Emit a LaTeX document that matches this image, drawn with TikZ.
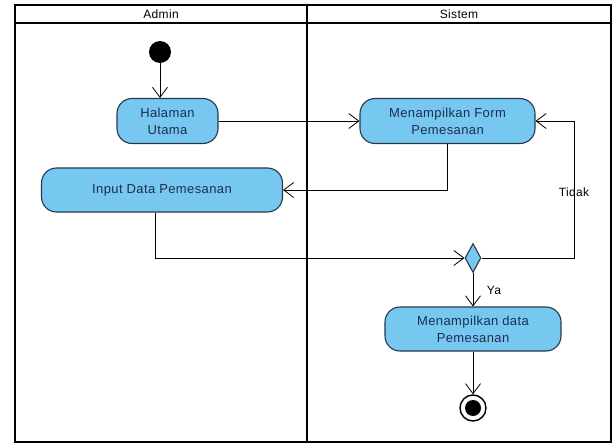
\documentclass[tikz,border=0pt]{standalone}
\usepackage{fontspec}
\setmainfont[LetterSpace=3]{Liberation Sans}
\usetikzlibrary{arrows.meta,shapes.geometric}
\definecolor{actblue}{RGB}{118,200,240}
\definecolor{actline}{RGB}{40,55,75}
\definecolor{acttext}{RGB}{30,45,80}

\begin{document}
\begin{tikzpicture}[x=1pt,y=-1pt,
        act/.style={draw=actline,line width=1.1pt,fill=actblue,rounded corners=15pt,
            text=acttext,align=center,inner sep=0pt,font=\fontsize{13}{17}\selectfont},
        lbl/.style={font=\fontsize{12}{14}\selectfont},
        flow/.style={-{Straight Barb[length=10pt,width=15pt]},line width=0.8pt}]
        \useasboundingbox (0,0) rectangle (613,444);
        \draw[line width=1.6pt] (15,5) rectangle (611,442);
        \draw[line width=1.6pt] (15,23) -- (611,23);
        \draw[line width=1.6pt] (307,5) -- (307,442);
        \node[lbl] (admin) at (161,14) {Admin};
        \node[lbl] (sistem) at (459,14) {Sistem};

        \node[circle,fill=black,minimum size=22pt,inner sep=0pt] (start) at (160,52) {};
        \node[act,minimum width=101pt,minimum height=45pt] (halaman) at (167.5,121) {Halaman\\Utama};
        \node[act,minimum width=175pt,minimum height=45pt] (form) at (447.5,121) {Menampilkan Form\\Pemesanan};
        \node[act,minimum width=241pt,minimum height=44pt] (input) at (162,190) {Input Data Pemesanan};
        \node[diamond,draw=actline,line width=1.1pt,fill=actblue,inner sep=0pt,
            minimum width=16pt,minimum height=29pt] (cek) at (473,258) {};
        \node[act,minimum width=176pt,minimum height=44pt] (data) at (473,329) {Menampilkan data\\Pemesanan};
        \node[circle,draw,line width=1.4pt,fill=white,minimum size=26pt,inner sep=0pt] (end) at (473,408) {};
        \fill (end) circle (8);
        \coordinate (loop) at (574,258);

        \draw[flow] (start) -- (start |- halaman.north);
        \draw[flow] (halaman) -- (form);
        \draw[flow] ([xshift=-0.5pt]form.south) |- (input.east);
        \draw[flow] ([xshift=-7pt]input.south) |- (cek.west);
        \draw[flow] (cek.east) -- (loop) |- (form.east);
        \draw[flow] (cek) -- (data);
        \draw[flow] (data) -- (end);
        \node[lbl] (tidak) at (574,192) {Tidak};
        \node[lbl] (ya) at (494,290) {Ya};
    \end{tikzpicture}
\end{document}
